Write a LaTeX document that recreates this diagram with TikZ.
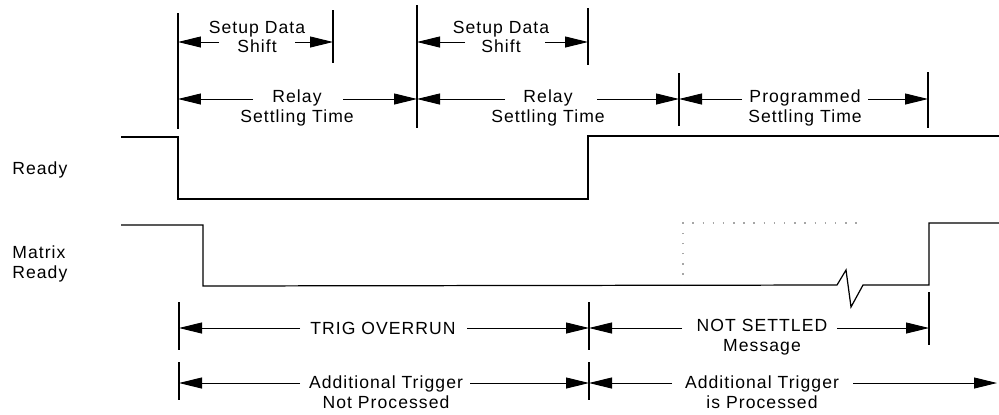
\documentclass[tikz,border=0pt]{standalone}
\usepackage{fontspec}
\setmainfont[LetterSpace=6]{Liberation Sans}
\usetikzlibrary{arrows.meta}
\begin{document}
\begin{tikzpicture}[x=0.02cm,y=-0.02cm,
  sig/.style={line width=0.7pt},
  tick/.style={line width=0.7pt},
  dim/.style={line width=0.5pt,-{Triangle[length=0.46cm,width=0.22cm]}},
  lbl/.style={font=\fontsize{10}{11.3}\selectfont, align=center, inner sep=0pt},
  dots/.style={line width=0.6pt, gray!70, dash pattern=on 0.8pt off 5pt}]
\useasboundingbox (0,0) rectangle (999,414);
\fill[white] (0,0) rectangle (999,414);

% signal names
\node[lbl, anchor=west] (rdy) at (12,170) {Ready};
\node[lbl, anchor=west, align=left] (mrdy) at (12,264) {Matrix\\Ready};

% waveforms
\draw[sig] (121,137) -- (178,137) -- (178,199) -- (588,199) -- (588,136) -- (999,136);
\draw[sig] (121,225) -- (203,225) -- (203,286) -- (837,285) -- (846,270) -- (851,307) -- (863,285) -- (929,285) -- (929,223) -- (999,223);
\draw[dots] (683,285) -- (683,223) -- (857,223);

% timing marks (top)
\coordinate (m1t) at (178,13);  \coordinate (m1b) at (178,129);
\coordinate (m2t) at (417,5);   \coordinate (m2b) at (417,128);
\coordinate (s1t) at (333,10);  \coordinate (s1b) at (333,63);
\coordinate (s2t) at (588,8);   \coordinate (s2b) at (588,65);
\coordinate (m3t) at (679,73);  \coordinate (m3b) at (679,126);
\coordinate (m4t) at (928,72);  \coordinate (m4b) at (928,128);
\foreach \a/\b in {m1t/m1b, m2t/m2b, s1t/s1b, s2t/s2b, m3t/m3b, m4t/m4b}
  \draw[tick] (\a) -- (\b);

% timing marks (bottom)
\coordinate (b1t) at (179,302); \coordinate (b1b) at (179,350);
\coordinate (b2t) at (589,302); \coordinate (b2b) at (589,350);
\coordinate (b3t) at (929,292); \coordinate (b3b) at (929,345);
\coordinate (c1t) at (179,362); \coordinate (c1b) at (179,400);
\coordinate (c2t) at (589,362); \coordinate (c2b) at (589,400);
\foreach \a/\b in {b1t/b1b, b2t/b2b, b3t/b3b, c1t/c1b, c2t/c2b}
  \draw[tick] (\a) -- (\b);

% Setup Data Shift (row y=42)
\node[lbl] (sd1) at (257,37) {Setup Data\\Shift};
\node[lbl] (sd2) at (501,37) {Setup Data\\Shift};
\draw[dim] (219,42) coordinate (sd1l) -- (178,42) coordinate (sd1a);
\draw[dim] (295,42) coordinate (sd1r) -- (333,42) coordinate (sd1b);
\draw[dim] (465,42) coordinate (sd2l) -- (417,42) coordinate (sd2a);
\draw[dim] (545,42) coordinate (sd2r) -- (588,42) coordinate (sd2b);

% Relay / Programmed settling (row y=99)
\node[lbl] (rl1) at (297,108) {Relay\\Settling Time};
\node[lbl] (rl2) at (548,108) {Relay\\Settling Time};
\node[lbl] (pg) at (805,108) {Programmed\\Settling Time};
\draw[dim] (253,99) -- (178,99);
\draw[dim] (343,99) -- (417,99);
\draw[dim] (505,99) -- (417,99);
\draw[dim] (597,99) -- (679,99);
\draw[dim] (742,99) -- (679,99);
\draw[dim] (868,99) -- (928,99);

% TRIG OVERRUN / NOT SETTLED (row y=328)
\node[lbl] (tov) at (383,328) {TRIG OVERRUN};
\node[lbl] (nse) at (762,337) {NOT SETTLED\\Message};
\draw[dim] (300,328) -- (179,328);
\draw[dim] (467,328) -- (589,328);
\draw[dim] (682,328) -- (589,328);
\draw[dim] (837,328) -- (929,328);

% Additional Trigger (row y=383)
\node[lbl] (atn) at (386,392) {Additional Trigger\\Not Processed};
\node[lbl] (atp) at (762,392) {Additional Trigger\\is Processed};
\draw[dim] (300,383) -- (179,383);
\draw[dim] (470,383) -- (589,383);
\draw[dim] (672,383) -- (589,383);
\draw[dim] (853,383) -- (997,383);
\end{tikzpicture}
\end{document}
